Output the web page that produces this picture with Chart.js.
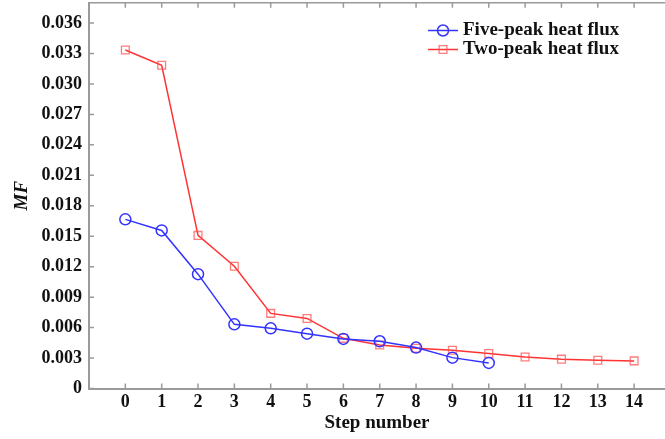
<!DOCTYPE html>
<html>
<head>
<meta charset="utf-8">
<script src="https://cdn.jsdelivr.net/npm/chart.js@4.4.1/dist/chart.umd.min.js"></script>
<style>
html,body{margin:0;padding:0;background:#fff;}
#c{display:block;}
</style>
</head>
<body>
<canvas id="c" width="665" height="439"></canvas>
<script>
const steps = [0,1,2,3,4,5,6,7,8,9,10,11,12,13,14];
const fivePeak = [0.01666,0.01557,0.01126,0.00632,0.00593,0.00540,0.00488,0.00465,0.00403,0.00304,0.00252];
const twoPeak = [0.03334,0.03184,0.01508,0.01204,0.00740,0.00690,0.00494,0.00428,0.00396,0.00377,0.00344,0.00311,0.00289,0.00279,0.00272];
const yTicks = [0,0.003,0.006,0.009,0.012,0.015,0.018,0.021,0.024,0.027,0.030,0.033,0.036];
const seriesNames = ['Five-peak heat flux','Two-peak heat flux'];

const FONT = '"Liberation Serif", "Times New Roman", serif';
const AXIS = '#9a9a9a';
const BLUE = '#3333ff';
const RED = '#ff3333';

const toPts = arr => arr.map((v,i)=>({x:steps[i], y:v}));

const framePlugin = {
  id:'frame',
  afterDraw(chart){
    const {ctx, chartArea:a, scales:{x,y}} = chart;
    ctx.save();
    ctx.strokeStyle = AXIS;
    ctx.lineWidth = 1.5;
    ctx.beginPath();
    ctx.moveTo(a.left, a.top); ctx.lineTo(a.right, a.top);
    steps.forEach(s=>{
      const px = x.getPixelForValue(s);
      ctx.moveTo(px, a.bottom); ctx.lineTo(px, a.bottom-5);
      ctx.moveTo(px, a.top); ctx.lineTo(px, a.top+5);
    });
    yTicks.forEach(t=>{
      const py = y.getPixelForValue(t);
      ctx.moveTo(a.left, py); ctx.lineTo(a.left+5, py);
    });
    ctx.stroke();
    ctx.restore();
  }
};

const legendPlugin = {
  id:'customLegend',
  afterDraw(chart){
    const {ctx} = chart;
    ctx.save();
    const rows = [30.5, 49.5];
    chart.data.datasets.forEach((ds,i)=>{
      const yy = rows[i];
      ctx.strokeStyle = ds.borderColor;
      ctx.lineWidth = 1.5;
      ctx.beginPath(); ctx.moveTo(428, yy); ctx.lineTo(458, yy); ctx.stroke();
      ctx.strokeStyle = ds.pointBorderColor;
      ctx.lineWidth = ds.pointBorderWidth;
      ctx.beginPath();
      if (ds.pointStyle === 'circle') { ctx.arc(443, yy, ds.pointRadius, 0, Math.PI*2); }
      else { const s = Math.SQRT1_2*ds.pointRadius; ctx.rect(443-s, yy-s, 2*s, 2*s); }
      ctx.stroke();
      ctx.fillStyle = '#111';
      ctx.font = 'bold 19px ' + FONT;
      ctx.textBaseline = 'middle';
      ctx.textAlign = 'left';
      ctx.fillText(ds.label, 463, yy);
    });
    ctx.restore();
  }
};

new Chart(document.getElementById('c'), {
  type:'line',
  data:{
    datasets:[
      {label:seriesNames[0], data:toPts(fivePeak), borderColor:BLUE, borderWidth:1.5,
       pointStyle:'circle', pointRadius:5.5, pointBorderColor:BLUE, pointBorderWidth:1.5,
       pointBackgroundColor:'rgba(0,0,0,0)', fill:false, tension:0},
      {label:seriesNames[1], data:toPts(twoPeak), borderColor:RED, borderWidth:1.5,
       pointStyle:'rect', pointRadius:5.5, pointBorderColor:'rgba(255,80,80,0.75)', pointBorderWidth:1.3,
       pointBackgroundColor:'rgba(0,0,0,0)', fill:false, tension:0}
    ]
  },
  options:{
    responsive:false,
    animation:false,
    devicePixelRatio:1,
    layout:{autoPadding:false, padding:{top:2.7,right:0,left:0,bottom:0}},
    plugins:{legend:{display:false}, tooltip:{enabled:false}},
    scales:{
      x:{
        type:'linear', min:-1, max:14.85,
        afterBuildTicks(s){ s.ticks = steps.map(v=>({value:v})); },
        afterFit(s){ s.height = 50.5; s.paddingLeft = 0; s.paddingRight = 0; },
        grid:{drawOnChartArea:false, drawTicks:false},
        border:{color:AXIS, width:2},
        ticks:{padding:3, color:'#111', font:{family:FONT, size:18, weight:'bold'},
               maxRotation:0, autoSkip:false, callback:v=>String(v)},
        title:{display:true, text:'Step number', color:'#111',
               font:{family:FONT, size:19, weight:'bold'}, padding:{top:0,bottom:5}}
      },
      y:{
        type:'linear', min:0, max:0.038,
        afterBuildTicks(s){ s.ticks = yTicks.map(v=>({value:v})); },
        afterFit(s){ s.width = 89; s.paddingTop = 0; s.paddingBottom = 0; },
        grid:{drawOnChartArea:false, drawTicks:false},
        border:{color:AXIS, width:2},
        ticks:{padding:7, color:'#111', font:{family:FONT, size:18, weight:'bold'},
               autoSkip:false, callback:v=> v===0 ? '0' : v.toFixed(3)},
        title:{display:true, text:'MF', color:'#111',
               font:{family:FONT, size:19, weight:'bold', style:'italic'}, padding:{top:11,bottom:0}}
      }
    }
  },
  plugins:[framePlugin, legendPlugin]
});
</script>
</body>
</html>
